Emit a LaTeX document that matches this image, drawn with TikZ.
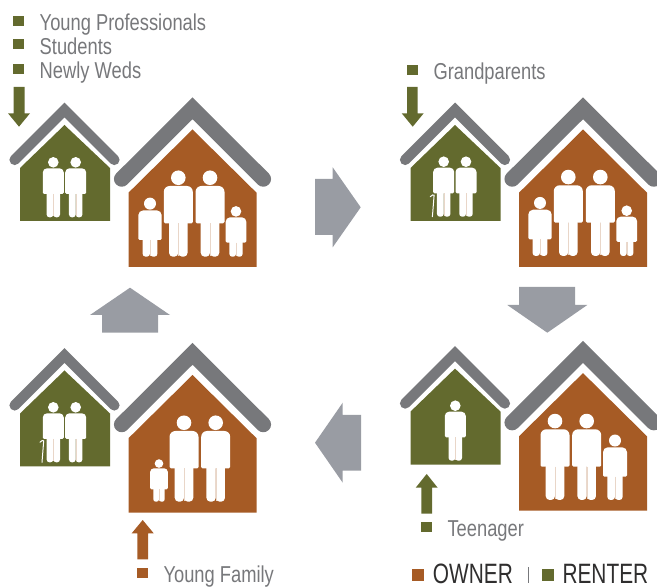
\documentclass[tikz,border=0pt]{standalone}
\usepackage{fontspec}
\setmainfont{Liberation Sans}
\newfontfamily\narrowfont[FakeStretch=0.797]{Liberation Sans}
\newfontfamily\legendfont[FakeStretch=0.745]{Liberation Sans}
\definecolor{rentgreen}{HTML}{636A2E}
\definecolor{ownbrown}{HTML}{A65B25}
\definecolor{roofgrey}{HTML}{77787B}
\definecolor{cyclegrey}{HTML}{999CA3}
\definecolor{legendink}{HTML}{2F2E2E}
\tikzset{
  roofline/.style={draw=roofgrey,line cap=round,line join=miter,miter limit=10},
  labeltext/.style={inner sep=0pt,anchor=base west,text=roofgrey,font=\narrowfont\fontsize{23}{25}\selectfont},
  legendtext/.style={inner sep=0pt,anchor=base west,text=legendink,font=\legendfont\fontsize{28}{30}\selectfont},
  figure/.style={fill=white,draw=none},
  cycle/.style={fill=cyclegrey,draw=none},
}
% \person{cx}{bottom}{half width}{torso top}{arm bottom}{head radius}
\newcommand{\person}[6]{%
  \begin{scope}[shift={(#1,#2)}]
    \pgfmathsetmacro{\hw}{#3}\pgfmathsetmacro{\lw}{0.64*#3}%
    \pgfmathsetmacro{\tp}{#4}\pgfmathsetmacro{\ab}{#5}\pgfmathsetmacro{\rr}{#6}%
    \pgfmathsetmacro{\cor}{0.8*#6}\pgfmathsetmacro{\lcor}{0.42*\lw}%
    \fill[figure] (0,-\tp-1.13*\rr) circle (\rr);
    \fill[figure] (-\lw,-\ab) [rounded corners=1.4pt] -- (-\hw,-\ab) [rounded corners=\cor pt] -- (-\hw,-\tp) -- (\hw,-\tp) [rounded corners=1.4pt] -- (\hw,-\ab) [sharp corners] -- (\lw,-\ab) -- cycle;
    \fill[figure,rounded corners=\lcor pt] (-\lw,-\ab-4) rectangle (0,0);
    \fill[figure,rounded corners=\lcor pt] (0,-\ab-4) rectangle (\lw,0);
    \draw[ownbrown!25!white,line width=0.4] (0,-\ab) -- (0,-1);
  \end{scope}}
% \cane{cx}{bottom}
\newcommand{\cane}[2]{%
  \draw[white,line width=1pt,line cap=round] (#1-11.3,#2) -- (#1-9.6,#2-21.5) to[out=100,in=40] (#1-13.4,#2-20);}
% \smallhouse{dx}{dy}
\newcommand{\smallhouse}[2]{%
  \begin{scope}[shift={(#1,#2)}]
    \draw[roofline,line width=10.6] (14.7,159.8) -- (64.5,110) -- (114.3,159.8);
    \fill[rentgreen] (20,221) -- (20,168) -- (64.5,125) -- (110,168) -- (110,221) -- cycle;
  \end{scope}}
\newcommand{\bighouse}[2]{%
  \begin{scope}[shift={(#1,#2)}]
    \draw[roofline,line width=15.5] (121.7,179) -- (192.5,108.3) -- (263.3,179);
    \fill[ownbrown] (128.5,267) -- (128.5,192.7) -- (192.5,129.5) -- (256.5,192.7) -- (256.5,267) -- cycle;
  \end{scope}}
\begin{document}
\begin{tikzpicture}[x=1pt,y=-1pt]
\useasboundingbox (0,0) rectangle (657,588);
\begin{scope}
\clip (0,0) rectangle (657,588);
% houses
\smallhouse{0}{0}\bighouse{0}{0}
\smallhouse{390.5}{0}\bighouse{390.5}{0}
\smallhouse{0}{245.5}\bighouse{0}{245.5}
\smallhouse{390.5}{243.6}\bighouse{390.5}{243.6}
% top left figures
\person{53.3}{217.3}{10.5}{49}{23.3}{5.3}
\person{75.7}{217.3}{10.5}{49}{23.3}{5.3}
\person{150}{256.7}{11.7}{46.3}{16.7}{6}
\person{178.3}{256.7}{14.5}{70.7}{33.3}{7.3}
\person{210}{256.7}{14.5}{70.7}{33.3}{7.3}
\person{236}{256.7}{10.3}{39.3}{14}{5.3}
% top right figures
\person{443.7}{216.7}{10.5}{49}{23.3}{5.3}
\person{466}{216.7}{10.5}{49}{23.3}{5.3}
\cane{443.7}{216.7}
\person{540}{256}{11.7}{46.3}{16.7}{6}
\person{568.3}{256}{14.5}{70.7}{33.3}{7.3}
\person{600.3}{256}{14.5}{70.7}{33.3}{7.3}
\person{626.7}{256}{10.3}{39.3}{14}{5.3}
% bottom left figures
\person{53.3}{462.3}{10.5}{49}{23.3}{5.3}
\person{75.7}{462.3}{10.5}{49}{23.3}{5.3}
\cane{53.3}{462.3}
\person{159}{501.7}{8.8}{33.3}{12.3}{4.3}
\person{184}{501.7}{14.5}{70.7}{33.3}{7.3}
\person{215.7}{501.7}{14.5}{70.7}{33.3}{7.3}
% bottom right figures
\person{455.3}{460.7}{10.5}{49}{23.3}{5.3}
\person{555}{500}{14.5}{70.7}{33.3}{7.3}
\person{586.7}{500}{14.5}{70.7}{33.3}{7.3}
\person{615}{500}{12}{52.7}{23.3}{6}
% small arrows
\fill[rentgreen] (13.7,87) -- (24.7,87) -- (24.7,113.3) -- (30,113.3) -- (19,126.7) -- (8,113.3) -- (13.7,113.3) -- cycle;
\fill[rentgreen] (407,87) -- (417.7,87) -- (417.7,113.3) -- (423.7,113.3) -- (412.7,126.7) -- (401.7,113.3) -- (407,113.3) -- cycle;
\fill[ownbrown] (137.3,559.3) -- (148,559.3) -- (148,533.3) -- (153.7,533.3) -- (142.7,520) -- (131.7,533.3) -- (137.3,533.3) -- cycle;
\fill[rentgreen] (421.3,513.7) -- (432,513.7) -- (432,487.7) -- (437.7,487.7) -- (426.7,474) -- (415.7,487.7) -- (421.3,487.7) -- cycle;
% cycle arrows
\fill[cycle] (315,179) -- (332.7,179) -- (332.7,167.3) -- (360.7,207.3) -- (332.7,247.3) -- (332.7,235) -- (315,235) -- cycle;
\fill[cycle] (519,287) -- (575,287) -- (575,305) -- (587.3,305) -- (547.3,332.7) -- (507.3,305) -- (519,305) -- cycle;
\fill[cycle] (361,415) -- (342.7,415) -- (342.7,402.7) -- (315,442.7) -- (342.7,482.7) -- (342.7,470.7) -- (361,470.7) -- cycle;
\fill[cycle] (102,332.7) -- (158,332.7) -- (158,315) -- (170,315) -- (130,287.7) -- (90,315) -- (102,315) -- cycle;
% bullets
\fill[rentgreen] (13.3,15.7) rectangle (24,25.7);
\fill[rentgreen] (13.3,39) rectangle (24,49.3);
\fill[rentgreen] (13.3,64) rectangle (24,74);
\fill[rentgreen] (407,65) rectangle (417.7,75);
\fill[ownbrown] (137.3,567.7) rectangle (148,578);
\fill[rentgreen] (421.3,521.7) rectangle (431.7,531.7);
\fill[ownbrown] (412.3,569.3) rectangle (424,580.7);
\fill[rentgreen] (542.3,569.3) rectangle (553.7,580.7);
\coordinate (sepTop) at (528,567.3);
\coordinate (sepBot) at (528,583.3);
\draw[roofgrey,line width=1] (sepTop) -- (sepBot);
% labels
\node[labeltext] (yp) at (39.5,30.7) {Young Professionals};
\node[labeltext] (st) at (39.5,54.3) {Students};
\node[labeltext] (nw) at (39.5,78.3) {Newly Weds};
\node[labeltext] (gp) at (433.3,80) {Grandparents};
\node[labeltext] (yf) at (163.3,582.3) {Young Family};
\node[labeltext] (tn) at (447.3,536.7) {Teenager};
\node[legendtext] (ow) at (432.7,583.3) {OWNER};
\node[legendtext] (rn) at (562.3,583.3) {RENTER};
\end{scope}
\end{tikzpicture}
\end{document}
